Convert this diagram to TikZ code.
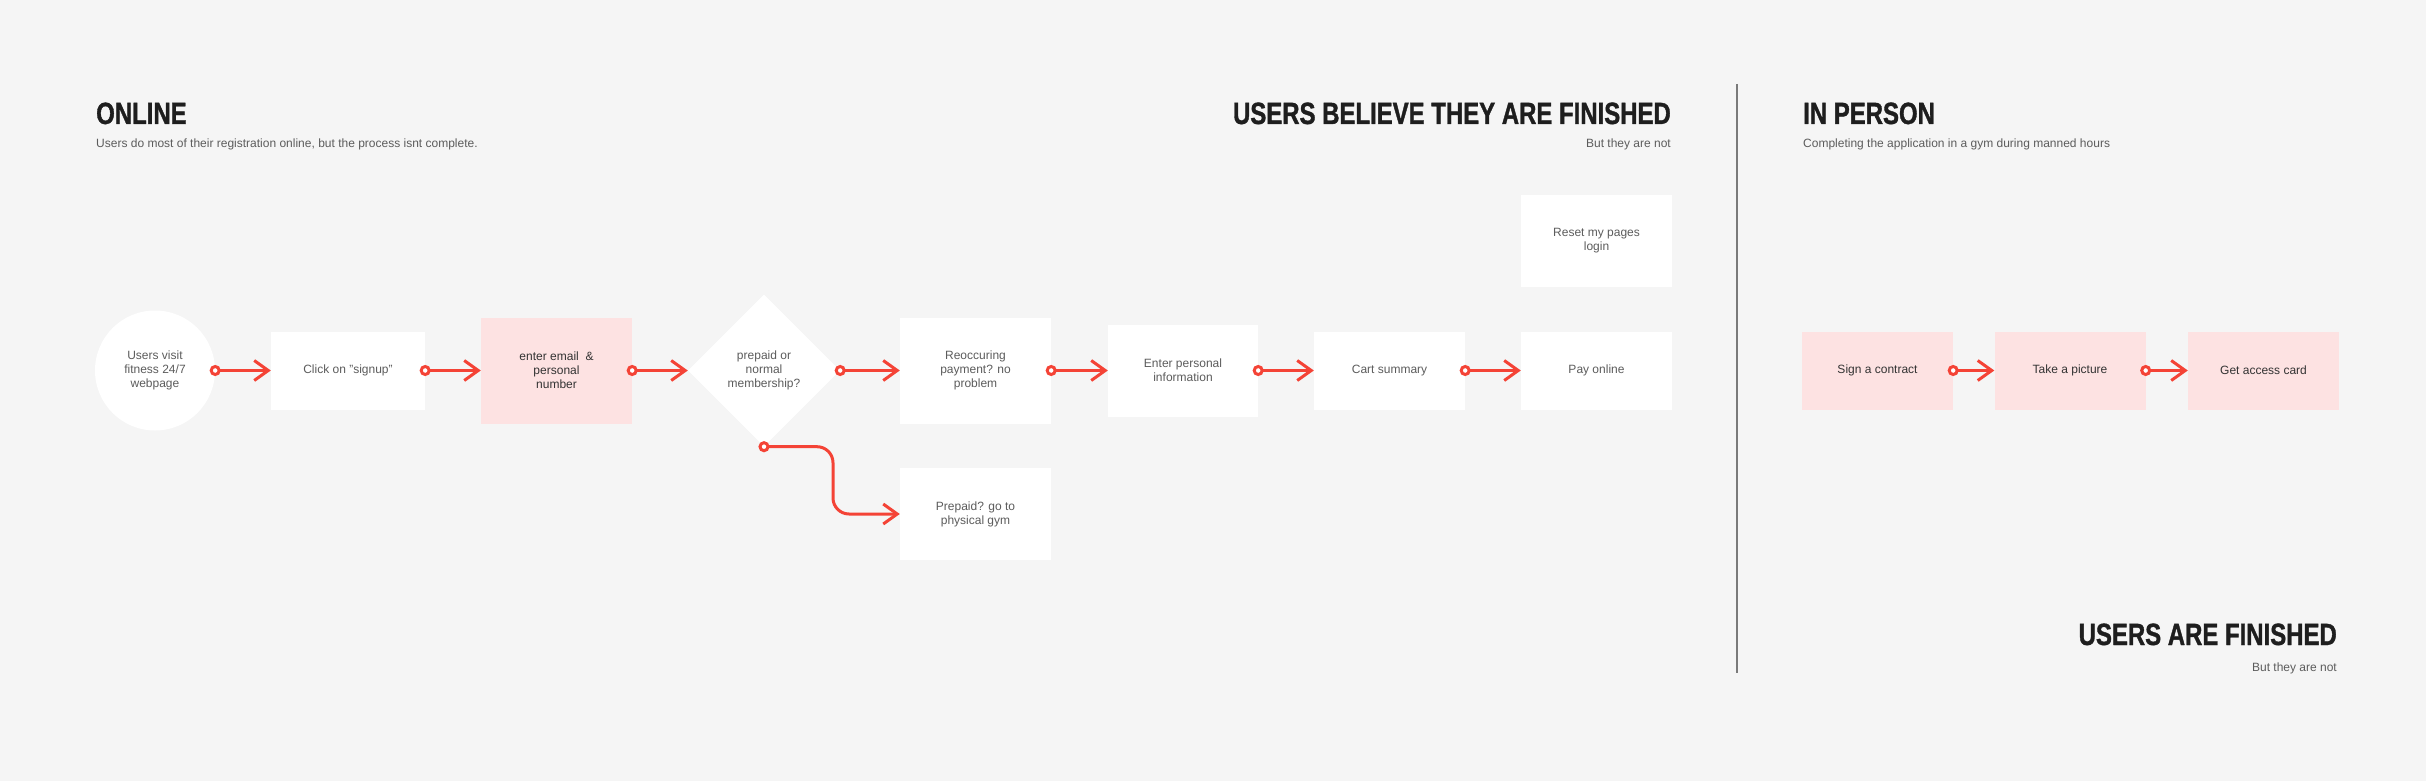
\documentclass[tikz,border=0pt]{standalone}
\usepackage{fontspec}
\setmainfont{Liberation Sans}
\newfontfamily\headfont[FakeStretch = 0.78, FakeBold = 1.2]{Liberation Sans Bold}
\usetikzlibrary{arrows.meta,shapes.geometric}
\definecolor{pagegrey}{HTML}{F5F5F5}
\definecolor{flowred}{HTML}{F44336}
\definecolor{tintpink}{HTML}{FDE2E2}
\definecolor{textgrey}{HTML}{5C5C5C}
\definecolor{headgrey}{HTML}{1E1E1E}
\definecolor{rulegrey}{HTML}{7A7A7A}
\begin{document}
\begin{tikzpicture}[x = 1pt, y = -1pt,
	stepbox/.style = {fill = white, minimum width = 151pt, minimum height = 78pt, inner sep = 0pt, align = center, text = textgrey, font = \fontsize{12}{14}\selectfont},
	tint/.style = {fill = tintpink, text = black!80},
	flow/.style = {draw = flowred, line width = 3pt, shorten <= -5.5pt, {Circle[open, fill = white, length = 11pt, width = 11pt]}-{Straight Barb[length = 14pt, width = 20pt]}},
	heading/.style = {inner sep = 0pt, text = headgrey, font = \headfont\fontsize{30.7}{34}\selectfont},
	caption/.style = {inner sep = 0pt, text = textgrey, font = \fontsize{12}{14}\selectfont}]
		\fill[pagegrey] (0, 0) rectangle (2426, 781);
		\node[heading, anchor = base west] (online) at (96, 124) {ONLINE};
		\node[caption, anchor = base west] (onlinesub) at (96, 148) {Users do most of their registration online, but the process isnt complete.};
		\node[heading, anchor = base east] (believe) at (1671, 124) {USERS BELIEVE THEY ARE FINISHED};
		\node[caption, anchor = base east] (believesub) at (1671, 148) {But they are not};
		\node[heading, anchor = base west] (person) at (1803, 124) {IN PERSON};
		\node[caption, anchor = base west] (personsub) at (1803, 148) {Completing the application in a gym during manned hours};
		\node[heading, anchor = base east] (finished) at (2337, 645) {USERS ARE FINISHED};
		\node[caption, anchor = base east] (finishedsub) at (2337, 671) {But they are not};
		\draw[rulegrey, line width = 1.5pt] (1737, 84) -- (1737, 673);
		%%%%%%%%%
		\node[circle, fill = white, minimum size = 120pt, inner sep = 0pt, align = center, text = textgrey, font = \fontsize{12}{14}\selectfont] (visit) at (155, 370.5) {Users visit\\fitness 24/7\\webpage};
		\node[stepbox, minimum width = 154pt] (signup) at (348, 370.5) {Click on "signup"};
		\node[stepbox, tint, minimum height = 106pt] (email) at (556.5, 370.5) {enter email\ \ \&\\personal\\number};
		\node[diamond, aspect = 1, fill = white, minimum width = 152pt, minimum height = 152pt, inner sep = 0pt, align = center, text = textgrey, font = \fontsize{12}{14}\selectfont] (choice) at (764, 370.5) {prepaid or\\normal\\membership?};
		\node[stepbox, minimum height = 106pt] (recur) at (975.5, 370.5) {Reoccuring\\payment? no\\problem};
		\node[stepbox, minimum height = 92pt] (prepaid) at (975.5, 514) {Prepaid? go to\\physical gym};
		\node[stepbox, minimum width = 150pt, minimum height = 92pt] (info) at (1183, 370.5) {Enter personal\\information};
		\node[stepbox] (cart) at (1389.5, 370.5) {Cart summary};
		\node[stepbox] (pay) at (1596.5, 370.5) {Pay online};
		\node[stepbox, minimum height = 92pt] (reset) at (1596.5, 241) {Reset my pages\\login};
		\coordinate (bend) at (833, 480);
		\draw[flow] (visit) -- (signup);
		\draw[flow] (signup) -- (email);
		\draw[flow] (email) -- (choice);
		\draw[flow] (choice) -- (recur);
		\draw[flow] (recur) -- (info);
		\draw[flow] (info) -- (cart);
		\draw[flow] (cart) -- (pay);
		\draw[flow, rounded corners = 16pt] (choice.south) -| (bend) |- (prepaid.west);
		%%%%%%%%%
		\node[stepbox, tint] (contract) at (1877.5, 370.5) {Sign a contract};
		\node[stepbox, tint] (photo) at (2070, 370.5) {Take a picture};
		\node[stepbox, tint] (card) at (2263.5, 370.5) {Get access card};
		\draw[flow] (contract) -- (photo);
		\draw[flow] (photo) -- (card);
\end{tikzpicture}
\end{document}
